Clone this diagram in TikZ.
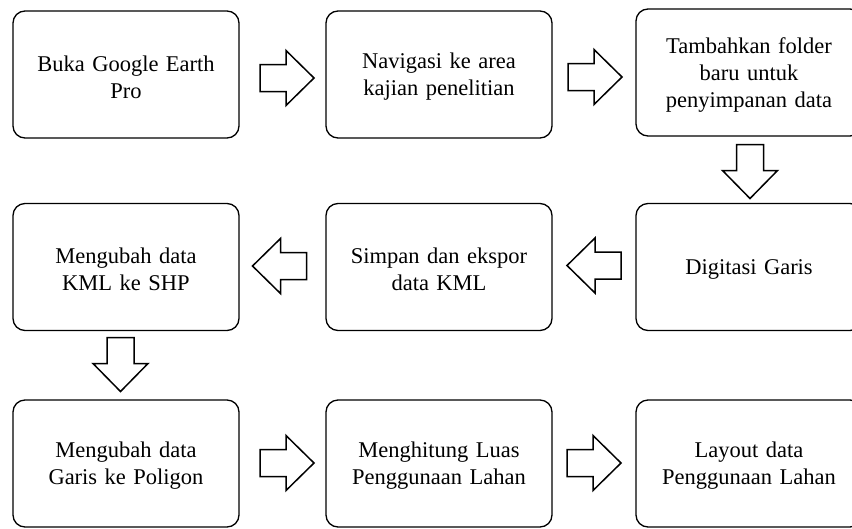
\documentclass[tikz,border=0pt]{standalone}
\usepackage{fontspec}
\setmainfont{Liberation Serif}
\usetikzlibrary{calc}
\tikzset{
  x=1pt, y=-1pt,
  boxtext/.style={align=center, text width=215pt, inner sep=0pt,
    font=\fontsize{22.5}{27}\selectfont, yshift=-2.5pt},
  stepbox/.style={draw=black, line width=1.3pt, rounded corners=12pt,
    minimum width=226pt, minimum height=127pt, inner sep=0pt,
    label={[boxtext]center:{#1}}},
  arrowline/.style={draw=black, line width=1.5pt, fill=white, line join=miter},
  barrow/.pic={\path[arrowline] (-27,-13.5) -- (-1,-13.5) -- (-1,-27.5) -- (27,0) -- (-1,27.5) -- (-1,13.5) -- (-27,13.5) -- cycle;}
}
\begin{document}
\begin{tikzpicture}
\useasboundingbox (0,0) rectangle (852,528);
\clip (0,0) rectangle (852,528);
\node[stepbox={Buka Google Earth\\Pro}] (b1) at (126,74.5) {};
\node[stepbox={Navigasi ke area\\kajian penelitian}] (b2) at (439,74.5) {};
\node[stepbox={Tambahkan folder\\baru untuk\\penyimpanan data}] (b3) at (749,72.5) {};
\node[stepbox={Mengubah data\\KML ke SHP}] (b4) at (126,267) {};
\node[stepbox={Simpan dan ekspor\\data KML}] (b5) at (439,267) {};
\node[stepbox={Digitasi Garis}] (b6) at (749,267) {};
\node[stepbox={Mengubah data\\Garis ke Poligon}] (b7) at (126,463.5) {};
\node[stepbox={Menghitung Luas\\Penggunaan Lahan}] (b8) at (439,463.5) {};
\node[stepbox={Layout data\\Penggunaan Lahan}] (b9) at (749,463.5) {};
\pic at ($($(b1.east)!0.5!(b2.west)$)+(4.5,3.5)$) {barrow};
\pic at ($($(b2.east)!0.5!(b3.west)$)+(1,3.5)$) {barrow};
\pic[rotate=-90] at ($($(b3.south)!0.5!(b6.north)$)+(1,1.75)$) {barrow};
\pic[rotate=180] at ($($(b6.west)!0.5!(b5.east)$)+(0,-1.5)$) {barrow};
\pic[rotate=180] at ($($(b5.west)!0.5!(b4.east)$)+(-3,-1)$) {barrow};
\pic[rotate=-90] at ($($(b4.south)!0.5!(b7.north)$)+(-5.5,-0.75)$) {barrow};
\pic at ($($(b7.east)!0.5!(b8.west)$)+(4.5,-0.5)$) {barrow};
\pic at ($($(b8.east)!0.5!(b9.west)$)+(0,-0.5)$) {barrow};
\end{tikzpicture}
\end{document}
